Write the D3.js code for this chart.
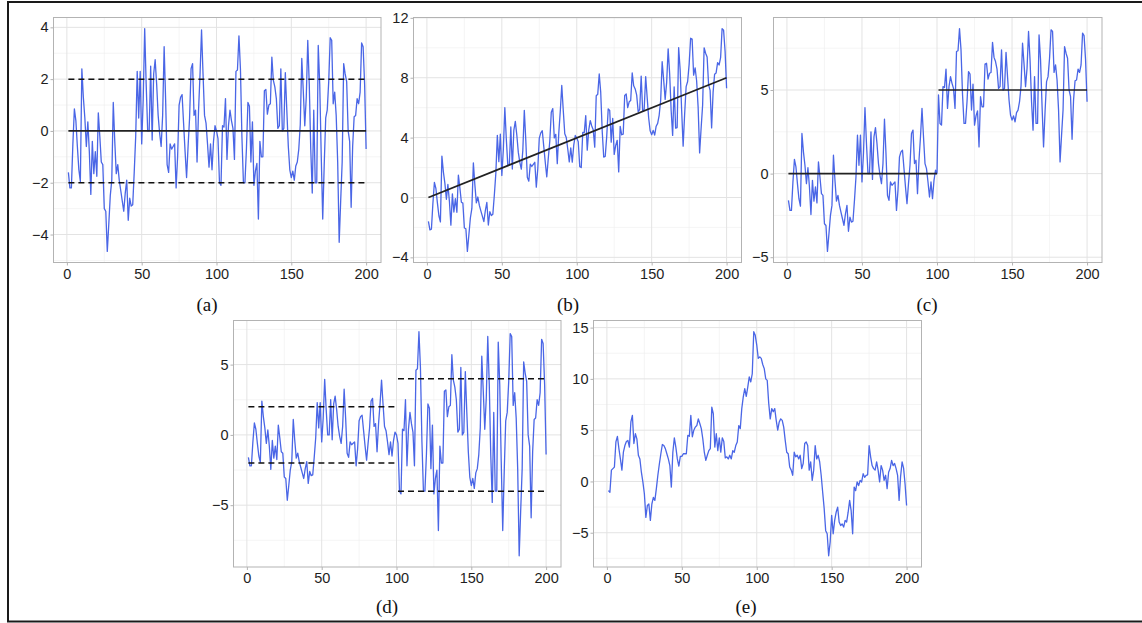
<!DOCTYPE html>
<html>
<head>
<meta charset="utf-8">
<script src="https://cdn.jsdelivr.net/npm/d3@7"></script>
<style>
body { margin: 0; background: #fff; }
svg { display: block; }
.tick text { font-family: "Liberation Sans", Arial, sans-serif; font-size: 14.5px; fill: #1e1e1e; }
.caption { font-family: "Liberation Serif", "Times New Roman", serif; font-size: 19px; fill: #111; }
</style>
</head>
<body>
<div id="chart-area"></div>
<script>
// series, t = 1..200
var seriesA = [
  -1.6,-2.2,-2.2,-0.5,0.85,0.4,-0.6,-1.5,-1.95,2.4,
  1.3,0.5,-0.6,0.35,-0.8,-2.45,-0.4,-1.65,-0.8,-1.75,
  0.7,-0.2,-1.2,-1.3,-3.0,-3.1,-4.65,-3.6,-2.5,-1.9,
  1.1,-0.4,-1.65,-1.3,-1.9,-2.3,-2.7,-3.1,-2.4,-1.9,
  -3.45,-2.6,-2.9,-2.85,-1.6,-0.2,2.3,0.5,2.3,-0.5,
  1.2,3.95,1.8,0.0,0.0,2.5,-0.35,2.2,2.75,1.8,
  0.6,-0.1,-0.6,0.6,3.25,1.2,-1.3,-1.6,-0.5,-0.7,
  -0.6,-0.5,-2.2,-1.0,1.0,1.3,1.4,0.3,-0.8,-1.8,
  -0.6,0.5,2.4,2.6,0.6,0.8,-1.2,0.8,2.2,3.9,
  2.2,0.6,0.3,-0.5,-1.4,-0.5,-1.5,-0.4,0.2,0.0,
  -0.3,-2.0,-2.1,0.2,0.15,1.25,-1.1,0.2,0.8,0.4,
  0.1,-1.1,2.3,2.35,3.67,2.4,-0.25,-2.0,-2.0,-0.7,
  1.1,0.95,-1.2,0.35,-2.1,-1.55,-1.25,-3.4,-0.4,-1.0,
  -1.0,1.55,1.6,0.65,1.0,1.05,2.85,1.95,1.7,1.25,
  0.1,0.2,2.4,0.0,0.1,2.25,0.8,-0.6,-1.5,-1.8,
  -1.55,-1.9,-1.35,-1.2,-0.7,0.25,2.8,1.55,0.2,1.3,
  3.5,1.8,-0.7,-2.4,0.8,-2.0,-2.0,3.3,1.8,-0.95,
  -3.4,-1.3,0.5,0.8,1.9,3.6,3.5,1.05,1.5,0.6,
  -1.2,-4.3,-2.7,-1.2,2.6,2.2,1.9,0.0,-0.4,-2.95,
  -0.6,0.55,0.6,1.25,1.05,1.5,3.4,3.25,1.8,-0.7
];

var seriesB = [
  -1.6,-2.16,-2.12,-0.38,1.01,0.6,-0.36,-1.22,-1.63,2.76,
  1.7,0.94,-0.12,0.87,-0.24,-1.85,0.24,-0.97,-0.08,-0.99,
  1.5,0.64,-0.32,-0.38,-2.04,-2.09,-3.6,-2.51,-1.37,-0.73,
  2.31,0.85,-0.36,0.03,-0.53,-0.89,-1.25,-1.61,-0.87,-0.33,
  -1.84,-0.95,-1.21,-1.12,0.17,1.61,4.15,2.39,4.23,1.47,
  3.21,6.0,3.89,2.13,2.17,4.71,1.9,4.49,5.08,4.17,
  3.01,2.35,1.89,3.13,5.82,3.81,1.35,1.09,2.23,2.07,
  2.21,2.35,0.69,1.93,3.97,4.32,4.46,3.4,2.34,1.38,
  2.62,3.76,5.7,5.94,3.98,4.22,2.26,4.3,5.74,7.48,
  5.82,4.26,4.0,3.24,2.38,3.32,2.36,3.5,4.14,3.98,
  3.72,2.06,2.0,4.34,4.33,5.47,3.16,4.5,5.14,4.78,
  4.52,3.36,6.8,6.89,8.25,7.02,4.41,2.7,2.74,4.08,
  5.92,5.81,3.7,5.29,2.88,3.48,3.82,1.71,4.75,4.19,
  4.23,6.82,6.91,6.0,6.39,6.48,8.32,7.46,7.25,6.84,
  5.73,5.87,8.11,5.75,5.89,8.08,6.67,5.31,4.45,4.19,
  4.48,4.17,4.76,4.95,5.49,6.48,9.07,7.86,6.55,7.69,
  9.93,8.27,5.81,4.15,7.39,4.63,4.67,10.01,8.55,5.84,
  3.43,5.57,7.41,7.75,8.89,10.64,10.58,8.17,8.66,7.8,
  6.04,2.98,4.62,6.16,10.0,9.64,9.38,7.52,7.16,4.65,
  7.04,8.23,8.32,9.01,8.85,9.34,11.28,11.17,9.76,7.3
];

var seriesC = [
  -1.6,-2.2,-2.2,-0.5,0.85,0.4,-0.6,-1.5,-1.95,2.4,
  1.3,0.5,-0.6,0.35,-0.8,-2.45,-0.4,-1.65,-0.8,-1.75,
  0.7,-0.2,-1.2,-1.3,-3.0,-3.1,-4.65,-3.6,-2.5,-1.9,
  1.1,-0.4,-1.65,-1.3,-1.9,-2.3,-2.7,-3.1,-2.4,-1.9,
  -3.45,-2.6,-2.9,-2.85,-1.6,-0.2,2.3,0.5,2.3,-0.5,
  1.2,3.95,1.8,0.0,0.0,2.5,-0.35,2.2,2.75,1.8,
  0.6,-0.1,-0.6,0.6,3.25,1.2,-1.3,-1.6,-0.5,-0.7,
  -0.6,-0.5,-2.2,-1.0,1.0,1.3,1.4,0.3,-0.8,-1.8,
  -0.6,0.5,2.4,2.6,0.6,0.8,-1.2,0.8,2.2,3.9,
  2.2,0.6,0.3,-0.5,-1.4,-0.5,-1.5,-0.4,0.2,0.0,
  4.7,3.0,2.9,5.2,5.15,6.25,3.9,5.2,5.8,5.4,
  5.1,3.9,7.3,7.35,8.67,7.4,4.75,3.0,3.0,4.3,
  6.1,5.95,3.8,5.35,2.9,3.45,3.75,1.6,4.6,4.0,
  4.0,6.55,6.6,5.65,6.0,6.05,7.85,6.95,6.7,6.25,
  5.1,5.2,7.4,5.0,5.1,7.25,5.8,4.4,3.5,3.2,
  3.45,3.1,3.65,3.8,4.3,5.25,7.8,6.55,5.2,6.3,
  8.5,6.8,4.3,2.6,5.8,3.0,3.0,8.3,6.8,4.05,
  1.6,3.7,5.5,5.8,6.9,8.6,8.5,6.05,6.5,5.6,
  3.8,0.7,2.3,3.8,7.6,7.2,6.9,5.0,4.6,2.05,
  4.4,5.55,5.6,6.25,6.05,6.5,8.4,8.25,6.8,4.3
];

var seriesD = [
  -1.6,-2.2,-2.2,-0.5,0.85,0.4,-0.6,-1.5,-1.95,2.4,
  1.3,0.5,-0.6,0.35,-0.8,-2.45,-0.4,-1.65,-0.8,-1.75,
  0.7,-0.2,-1.2,-1.3,-3.0,-3.1,-4.65,-3.6,-2.5,-1.9,
  1.1,-0.4,-1.65,-1.3,-1.9,-2.3,-2.7,-3.1,-2.4,-1.9,
  -3.45,-2.6,-2.9,-2.85,-1.6,-0.2,2.3,0.5,2.3,-0.5,
  1.2,3.95,1.8,0.0,0.0,2.5,-0.35,2.2,2.75,1.8,
  0.6,-0.1,-0.6,0.6,3.25,1.2,-1.3,-1.6,-0.5,-0.7,
  -0.6,-0.5,-2.2,-1.0,1.0,1.3,1.4,0.3,-0.8,-1.8,
  -0.6,0.5,2.4,2.6,0.6,0.8,-1.2,0.8,2.2,3.9,
  2.2,0.6,0.3,-0.5,-1.4,-0.5,-1.5,-0.4,0.2,0.0,
  -0.6,-4.0,-4.2,0.4,0.3,2.5,-2.2,0.4,1.6,0.8,
  0.2,-2.2,4.6,4.7,7.34,4.8,-0.5,-4.0,-4.0,-1.4,
  2.2,1.9,-2.4,0.7,-4.2,-3.1,-2.5,-6.8,-0.8,-2.0,
  -2.0,3.1,3.2,1.3,2.0,2.1,5.7,3.9,3.4,2.5,
  0.2,0.4,4.8,0.0,0.2,4.5,1.6,-1.2,-3.0,-3.6,
  -3.1,-3.8,-2.7,-2.4,-1.4,0.5,5.6,3.1,0.4,2.6,
  7.0,3.6,-1.4,-4.8,1.6,-4.0,-4.0,6.6,3.6,-1.9,
  -6.8,-2.6,1.0,1.6,3.8,7.2,7.0,2.1,3.0,1.2,
  -2.4,-8.6,-5.4,-2.4,5.2,4.4,3.8,0.0,-0.8,-5.9,
  -1.2,1.1,1.2,2.5,2.1,3.0,6.8,6.5,3.6,-1.4
];

var seriesE = [
  -0.9,-1.05,1.1,1.25,1.4,3.85,4.4,3.2,2.2,1.1,
  2.85,3.5,3.9,4.0,3.35,5.8,6.45,3.7,4.65,4.15,
  2.55,2.2,0.9,-0.05,-1.2,-3.5,-2.35,-2.2,-3.8,-2.2,
  -1.55,-1.85,-0.7,0.6,1.7,2.7,3.6,3.5,3.2,2.7,
  2.2,1.55,-0.55,2.85,4.25,3.35,2.2,1.5,2.45,2.45,
  2.7,2.7,2.7,4.5,4.4,6.45,4.35,5.0,5.3,5.45,
  6.1,5.65,5.15,4.15,2.85,2.05,2.55,3.0,3.2,7.25,
  6.6,3.35,4.65,3.0,4.25,2.85,4.25,3.9,2.3,2.4,
  2.2,2.55,2.2,3.0,2.85,3.5,3.85,5.45,5.15,7.1,
  8.25,9.05,8.3,9.2,10.2,9.7,10.5,14.6,14.25,13.3,
  12.0,12.15,12.0,11.4,11.0,10.0,9.85,7.6,6.1,7.1,
  6.8,7.1,5.95,5.0,5.8,6.1,5.95,5.3,4.0,2.85,
  2.7,1.4,1.1,0.6,2.85,2.4,2.55,2.2,2.55,1.25,
  1.75,3.7,3.85,3.5,1.1,1.9,0.1,1.1,3.5,2.2,
  2.55,1.9,0.6,-1.05,-2.65,-4.8,-5.1,-7.25,-5.9,-3.3,
  -5.1,-3.8,-3.0,-2.5,-3.95,-4.3,-4.15,-4.45,-3.8,-3.95,
  -3.0,-1.85,-2.85,-5.1,-0.55,-0.9,-0.05,-0.4,0.1,-0.05,
  0.75,0.4,0.6,0.65,3.5,2.4,1.55,1.25,1.1,1.9,
  1.1,-0.05,1.55,1.1,0.1,0.6,-0.7,0.9,1.25,2.05,
  1.55,1.75,1.25,0.6,-1.85,0.5,1.9,1.3,-0.3,-2.35
];

// reference lines: [from t, to t, level at from, level at to]
var refSolidA = [[1, 200, 0, 0]];
var refDashA = [[1, 200, -2, -2], [1, 200, 2, 2]];
var refSolidB = [[1, 200, 0, 8]];
var refSolidC = [[1, 100, 0, 0], [101, 200, 5, 5]];
var refDashD = [[1, 100, -2, -2], [1, 100, 2, 2], [101, 200, -4, -4], [101, 200, 4, 4]];

var xTicks = [0, 50, 100, 150, 200];
var xMinor = [25, 75, 125, 175];
var yTicksA = [-4, -2, 0, 2, 4];
var yTicksB = [-4, 0, 4, 8, 12];
var yTicksC = [-5, 0, 5];
var yTicksD = [-5, 0, 5];
var yTicksE = [-5, 0, 5, 10, 15];
var captions = ["(a)", "(b)", "(c)", "(d)", "(e)"];

var width = 1142;
var height = 623;

var svg = d3.select("#chart-area")
    .append("svg")
        .attr("width", width)
        .attr("height", height);

// outer frame (right edge falls outside the picture)
svg.append("rect")
    .attr("x", 8).attr("y", 2)
    .attr("width", 1145).attr("height", 619.5)
    .attr("fill", "none")
    .attr("stroke", "#1a1a1a")
    .attr("stroke-width", 2);

var panels = [
    {data: seriesA, ticks: yTicksA, solid: refSolidA, dash: refDashA, box: [53.5, 17.5, 381, 262.5], cap: [207, 311]},
    {data: seriesB, ticks: yTicksB, solid: refSolidB, dash: [], box: [413.5, 17.5, 741.5, 262.5], cap: [568, 311]},
    {data: seriesC, ticks: yTicksC, solid: refSolidC, dash: [], box: [773.5, 17.5, 1102, 262.5], cap: [927, 311]},
    {data: seriesD, ticks: yTicksD, solid: [], dash: refDashD, box: [233.5, 320.5, 561, 567], cap: [387, 613]},
    {data: seriesE, ticks: yTicksE, solid: [], dash: [], box: [593.5, 320.5, 921.5, 567], cap: [746, 613]}
];

panels.forEach(function(p, k) {
    var left = p.box[0], top = p.box[1], right = p.box[2], bottom = p.box[3];
    var n = p.data.length;

    // ggplot-style 5% expansion
    var xPad = (n - 1) * 0.05;
    var x = d3.scaleLinear()
        .domain([1 - xPad, n + xPad])
        .range([left, right]);

    var ext = d3.extent(p.data);
    var yPad = (ext[1] - ext[0]) * 0.05;
    var y = d3.scaleLinear()
        .domain([ext[0] - yPad, ext[1] + yPad])
        .range([bottom, top]);

    var step = p.ticks[1] - p.ticks[0];
    var yMinor = p.ticks.map(function(t) { return t - step / 2; })
        .concat([p.ticks[p.ticks.length - 1] + step / 2])
        .filter(function(v) { return v > y.domain()[0] && v < y.domain()[1]; });

    var g = svg.append("g").attr("class", "panel");

    g.append("rect")
        .attr("x", left).attr("y", top)
        .attr("width", right - left).attr("height", bottom - top)
        .attr("fill", "#fff");

    // grid
    g.selectAll(".minor-x").data(xMinor).enter().append("line")
        .attr("x1", function(d) { return x(d); }).attr("x2", function(d) { return x(d); })
        .attr("y1", top).attr("y2", bottom)
        .attr("stroke", "#efefef").attr("stroke-width", 0.6);
    g.selectAll(".minor-y").data(yMinor).enter().append("line")
        .attr("x1", left).attr("x2", right)
        .attr("y1", function(d) { return y(d); }).attr("y2", function(d) { return y(d); })
        .attr("stroke", "#efefef").attr("stroke-width", 0.6);
    g.selectAll(".major-x").data(xTicks).enter().append("line")
        .attr("x1", function(d) { return x(d); }).attr("x2", function(d) { return x(d); })
        .attr("y1", top).attr("y2", bottom)
        .attr("stroke", "#e3e3e3").attr("stroke-width", 1);
    g.selectAll(".major-y").data(p.ticks).enter().append("line")
        .attr("x1", left).attr("x2", right)
        .attr("y1", function(d) { return y(d); }).attr("y2", function(d) { return y(d); })
        .attr("stroke", "#e3e3e3").attr("stroke-width", 1);

    var line = d3.line()
        .x(function(d, i) { return x(i + 1); })
        .y(function(d) { return y(d); });

    g.append("path")
        .datum(p.data)
        .attr("d", line)
        .attr("fill", "none")
        .attr("stroke", "#4a66e6")
        .attr("stroke-width", 1.3)
        .attr("stroke-linejoin", "round");

    // reference lines sit over the series
    g.selectAll(".ref-solid").data(p.solid).enter().append("line")
        .attr("x1", function(d) { return x(d[0]); }).attr("x2", function(d) { return x(d[1]); })
        .attr("y1", function(d) { return y(d[2]); }).attr("y2", function(d) { return y(d[3]); })
        .attr("stroke", "#222").attr("stroke-width", 1.7);
    g.selectAll(".ref-dash").data(p.dash).enter().append("line")
        .attr("x1", function(d) { return x(d[0]); }).attr("x2", function(d) { return x(d[1]); })
        .attr("y1", function(d) { return y(d[2]); }).attr("y2", function(d) { return y(d[3]); })
        .attr("stroke", "#111").attr("stroke-width", 1.5)
        .attr("stroke-dasharray", "6,4");

    g.append("rect")
        .attr("x", left).attr("y", top)
        .attr("width", right - left).attr("height", bottom - top)
        .attr("fill", "none")
        .attr("stroke", "#b3b3b3").attr("stroke-width", 1);

    var bottomAxis = d3.axisBottom(x).tickValues(xTicks).tickSize(3).tickPadding(3);
    var gx = g.append("g")
        .attr("transform", "translate(0, " + bottom + ")")
        .call(bottomAxis);
    var leftAxis = d3.axisLeft(y).tickValues(p.ticks).tickSize(3).tickPadding(2)
        .tickFormat(function(d) { return d < 0 ? "\u2212" + Math.abs(d) : d; });
    var gy = g.append("g")
        .attr("transform", "translate(" + left + ", 0)")
        .call(leftAxis);
    [gx, gy].forEach(function(ax) {
        ax.select(".domain").remove();
        ax.selectAll(".tick line").attr("stroke", "#b3b3b3");
        ax.attr("font-family", null).attr("font-size", null);
    });

    svg.append("text")
        .attr("class", "caption")
        .attr("x", p.cap[0])
        .attr("y", p.cap[1])
        .attr("text-anchor", "middle")
        .text(captions[k]);
});
</script>
</body>
</html>
